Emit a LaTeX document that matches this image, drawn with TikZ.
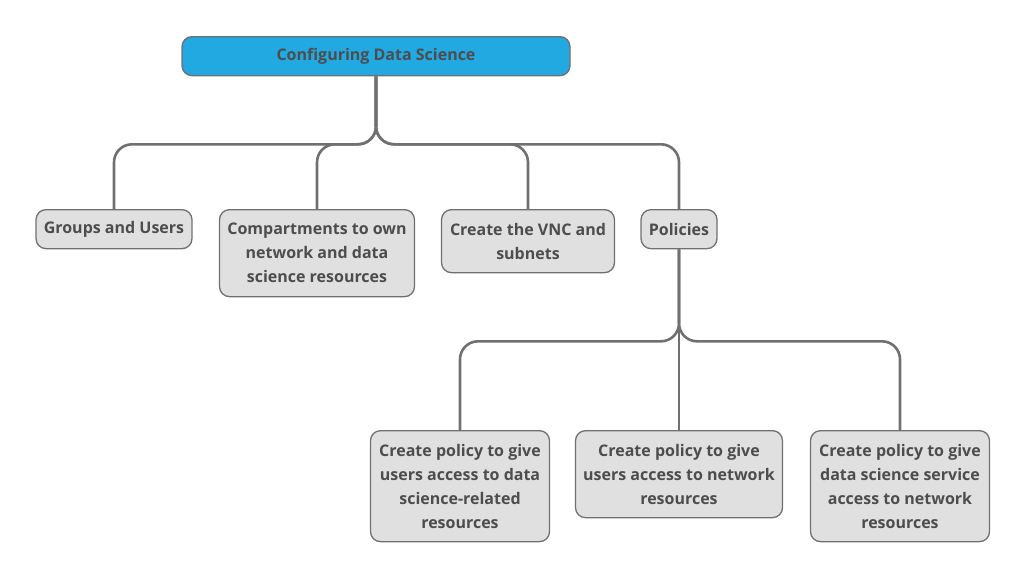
\documentclass[tikz,border=0pt]{standalone}
\usepackage{fontspec}
\setmainfont{Open Sans}
\definecolor{rootblue}{HTML}{22A9E1}
\definecolor{boxgray}{HTML}{E0E0E0}
\definecolor{edgegray}{HTML}{707070}
\definecolor{textgray}{HTML}{4D4D4D}
\begin{document}
\begin{tikzpicture}[x=1pt, y=-1pt]
		\tikzset{bx/.style={draw=edgegray, fill=boxgray, line width=1.3pt, rounded corners=10pt, align=center, anchor=north, text=textgray, inner xsep=4pt, inner ysep=0pt, font=\fontsize{16}{24}\selectfont\bfseries}};
		\tikzset{conn/.style={draw=edgegray, line width=2.6pt, rounded corners=18pt}};

		\useasboundingbox (0,0) rectangle (1027,579);

		\node[bx, fill=rootblue, minimum width=388pt, minimum height=39pt] (root) at (376, 36) {Configuring Data Science};
		\node[bx, minimum width=156pt, minimum height=39pt] (grp) at (114, 209) {Groups and Users};
		\node[bx, minimum width=195pt, minimum height=87pt] (cmp) at (317, 209) {Compartments to own\\network and data\\science resources};
		\node[bx, minimum width=173pt, minimum height=63pt] (vnc) at (528, 209) {Create the VNC and\\subnets};
		\node[bx, minimum width=76pt, minimum height=39pt] (pol) at (679, 209) {Policies};
		\node[bx, minimum width=179pt, minimum height=111pt] (pdata) at (460, 430) {Create policy to give\\users access to data\\science-related\\resources};
		\node[bx, minimum width=207pt, minimum height=87pt] (pnet) at (679, 430) {Create policy to give\\users access to network\\resources};
		\node[bx, minimum width=179pt, minimum height=111pt] (psvc) at (900, 430) {Create policy to give\\data science service\\access to network\\resources};

		\begin{scope}[on background layer/.try]
		\draw[conn] (root.south) -- ++(0,68) -| (grp.north);
		\draw[conn] (root.south) -- ++(0,68) -| (cmp.north);
		\draw[conn] (root.south) -- ++(0,68) -| (vnc.north);
		\draw[conn] (root.south) -- ++(0,68) -| (pol.north);

		\draw[conn] (pol.south) -- ++(0,92) -| (pdata.north);
		\draw[conn] (pol.south) -- (pnet.north);
		\draw[conn] (pol.south) -- ++(0,92) -| (psvc.north);
		\end{scope}
	\end{tikzpicture}
\end{document}
